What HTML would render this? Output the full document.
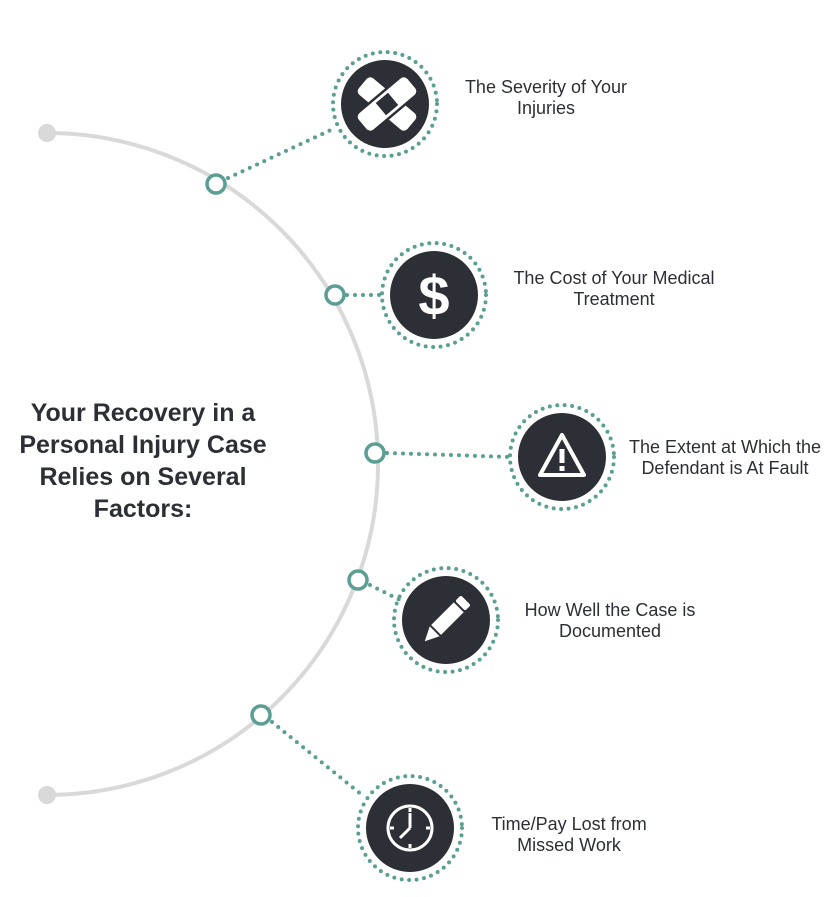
<!DOCTYPE html>
<html><head><meta charset="utf-8"><style>
body{margin:0;background:#fff;}
svg text{font-family:"Liberation Sans",sans-serif;fill:#2d2f36;}
</style></head><body>
<svg width="831" height="892" viewBox="0 0 831 892" xmlns="http://www.w3.org/2000/svg">
<path d="M47 133 A331 331 0 0 1 47 795" fill="none" stroke="#d9d9d9" stroke-width="4"/>
<circle cx="47" cy="133" r="9" fill="#d9d9d9"/>
<circle cx="47" cy="795" r="9" fill="#d9d9d9"/>
<g stroke="#5a9e94" stroke-width="4" stroke-linecap="round" stroke-dasharray="0 8" fill="none">
<line x1="228" y1="178" x2="335" y2="128"/>
<line x1="347" y1="295" x2="385" y2="295"/>
<line x1="387" y1="453" x2="512" y2="457"/>
<line x1="370" y1="585" x2="400" y2="600"/>
<line x1="272" y1="722" x2="362" y2="795"/>
</g>
<g fill="#fff" stroke="#5a9e94" stroke-width="3.5">
<circle cx="216" cy="184" r="9"/>
<circle cx="335" cy="295" r="9"/>
<circle cx="375" cy="453" r="9"/>
<circle cx="358" cy="580" r="9"/>
<circle cx="261" cy="715" r="9"/>
</g>
<g stroke="#5a9e94" stroke-width="4" stroke-linecap="round" stroke-dasharray="0 7.5" fill="none">
<circle cx="385" cy="104" r="52"/>
<circle cx="434" cy="295" r="52"/>
<circle cx="562" cy="457" r="52"/>
<circle cx="446" cy="620" r="52"/>
<circle cx="410" cy="828" r="52"/>
</g>
<g fill="#2d2f36">
<circle cx="385" cy="104" r="44"/>
<circle cx="434" cy="295" r="44"/>
<circle cx="562" cy="457" r="44"/>
<circle cx="446" cy="620" r="44"/>
<circle cx="410" cy="828" r="44"/>
</g>
<g transform="translate(387,104)" fill="#fff" stroke="#2d2f36" stroke-width="2.5">
<rect x="-33" y="-12" width="66" height="24" rx="6" transform="rotate(40)"/>
<rect x="-33" y="-12" width="66" height="24" rx="6" transform="rotate(-40)"/>
<rect x="-8" y="-8" width="16" height="16" fill="#2d2f36" stroke="none" transform="rotate(-40)"/>
</g>
<text x="434" y="315" font-size="56" font-weight="bold" text-anchor="middle" style="fill:#fff">$</text>
<g transform="translate(562,457)">
<path d="M0 -22 L22 18 L-22 18 Z" fill="none" stroke="#fff" stroke-width="4" stroke-linejoin="round"/>
<rect x="-2.5" y="-8" width="5" height="14" fill="#fff"/>
<rect x="-2.5" y="9" width="5" height="5" fill="#fff"/>
</g>
<g transform="translate(446,620) rotate(45)" fill="#fff">
<rect x="-7" y="-28" width="14" height="8" rx="2"/>
<rect x="-7" y="-18" width="14" height="32"/>
<path d="M-7 16 L7 16 L0 30 Z"/>
</g>
<g transform="translate(410,828)" stroke="#fff" fill="none" stroke-width="3">
<circle r="22"/>
<line x1="0" y1="0" x2="0" y2="-15"/>
<line x1="0" y1="0" x2="-10" y2="10"/>
<line x1="0" y1="-20" x2="0" y2="-16"/><line x1="0" y1="20" x2="0" y2="16"/>
<line x1="-20" y1="0" x2="-16" y2="0"/><line x1="20" y1="0" x2="16" y2="0"/>
</g>
<g font-size="25" font-weight="bold" text-anchor="middle">
<text x="143" y="421">Your Recovery in a</text>
<text x="143" y="453">Personal Injury Case</text>
<text x="143" y="485">Relies on Several</text>
<text x="143" y="517">Factors:</text>
</g>
<g font-size="18" text-anchor="middle">
<text x="546" y="93">The Severity of Your</text>
<text x="546" y="114">Injuries</text>
<text x="614" y="284">The Cost of Your Medical</text>
<text x="614" y="305">Treatment</text>
<text x="725" y="453">The Extent at Which the</text>
<text x="725" y="474">Defendant is At Fault</text>
<text x="610" y="616">How Well the Case is</text>
<text x="610" y="637">Documented</text>
<text x="569" y="830">Time/Pay Lost from</text>
<text x="569" y="851">Missed Work</text>
</g>
</svg>
</body></html>
